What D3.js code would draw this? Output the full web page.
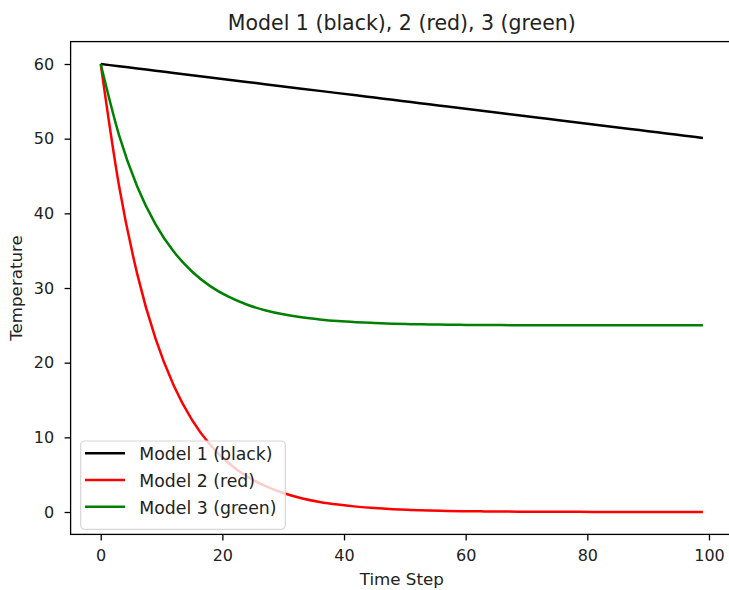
<!DOCTYPE html>
<html>
<head>
<meta charset="utf-8">
<script src="https://cdn.jsdelivr.net/npm/d3@7"></script>
<style>
  body { margin: 0; background: #fff; }
  svg text { font-family: "DejaVu Sans", "Noto Sans", sans-serif; fill: #222; }
</style>
</head>
<body>
<div id="chart"></div>
<script>
// time steps
var timeSteps = [0,3,6,9,12,15,18,21,24,27,30,33,36,39,42,45,48,51,54,57,60,63,66,69,72,75,78,81,84,87,90,93,96,99];
var model1 = [60,59.7,59.4,59.1,58.8,58.5,58.2,57.9,57.6,57.3,57,56.7,56.4,56.1,55.8,55.5,55.2,54.9,54.6,54.3,54,53.7,53.4,53.1,52.8,52.5,52.2,51.9,51.6,51.3,51,50.7,50.4,50.1];
var model2 = [60,43.74,31.89,23.24,16.95,12.35,9.01,6.57,4.79,3.49,2.54,1.85,1.35,0.99,0.72,0.52,0.38,0.28,0.2,0.15,0.11,0.08,0.06,0.04,0.03,0.02,0.02,0.01,0.01,0.01,0,0,0,0];
var model3 = [60,50.52,43.6,38.56,34.88,32.21,30.25,28.83,27.79,27.03,26.48,26.08,25.79,25.57,25.42,25.31,25.22,25.16,25.12,25.09,25.06,25.05,25.03,25.02,25.02,25.01,25.01,25.01,25,25,25,25,25,25];
var seriesNames = ["Model 1 (black)", "Model 2 (red)", "Model 3 (green)"];
var seriesColors = ["#000000", "#ff0000", "#008000"];
var xTicks = [0,20,40,60,80,100];
var yTicks = [0,10,20,30,40,50,60];

var drawChart = function(div) {
    var width = 729, height = 590;
    var svg = d3.select(div).append("svg")
        .attr("width", width)
        .attr("height", height);

    // axes box (right edge falls just outside the picture, as in the original)
    var box = {left: 70.6, right: 733, top: 41.6, bottom: 534.4};

    var xScale = d3.scaleLinear().domain([-4.95, 103.95]).range([box.left, box.right]);
    var yScale = d3.scaleLinear().domain([-3, 63]).range([box.bottom, box.top]);

    var allSeries = [model1, model2, model3];

    var line = d3.line()
        .x(function(d) { return xScale(d.t); })
        .y(function(d) { return yScale(d.v); })
        .curve(d3.curveMonotoneX);

    allSeries.forEach(function(vals, i) {
        var pts = timeSteps.map(function(t, j) { return {t: t, v: vals[j]}; });
        svg.append("path")
          .datum(pts)
          .attr("fill", "none")
          .attr("stroke", seriesColors[i])
          .attr("stroke-width", 2.5)
          .attr("stroke-linejoin", "round")
          .attr("d", line);
    });

    // spines
    svg.append("rect")
        .attr("x", box.left)
        .attr("y", box.top)
        .attr("width", box.right - box.left)
        .attr("height", box.bottom - box.top)
        .attr("fill", "none")
        .attr("stroke", "#000")
        .attr("stroke-width", 1.3);

    // x axis
    var xAxis = d3.axisBottom(xScale)
        .tickValues(xTicks)
        .tickSize(6)
        .tickPadding(9)
        .tickFormat(d3.format("d"));
    var gx = svg.append("g")
        .attr("transform", "translate(0," + box.bottom + ")")
        .call(xAxis);
    gx.select(".domain").remove();
    gx.selectAll(".tick line").attr("stroke", "#000").attr("stroke-width", 1.3);
    gx.selectAll(".tick text")
        .style("font-size", "16px")
        .attr("fill", "#222");

    // y axis
    var yAxis = d3.axisLeft(yScale)
        .tickValues(yTicks)
        .tickSize(6)
        .tickPadding(10.5)
        .tickFormat(d3.format("d"));
    var gy = svg.append("g")
        .attr("transform", "translate(" + box.left + ",0)")
        .call(yAxis);
    gy.select(".domain").remove();
    gy.selectAll(".tick line").attr("stroke", "#000").attr("stroke-width", 1.3);
    gy.selectAll(".tick text")
        .style("font-size", "16px")
        .attr("fill", "#222");

    // title and labels
    svg.append("text")
        .attr("x", (box.left + box.right) / 2)
        .attr("y", 29.5)
        .attr("text-anchor", "middle")
        .style("font-size", "20.5px")
        .text("Model 1 (black), 2 (red), 3 (green)");

    svg.append("text")
        .attr("x", (box.left + box.right) / 2)
        .attr("y", 585)
        .attr("text-anchor", "middle")
        .style("font-size", "16.7px")
        .text("Time Step");

    svg.append("text")
        .attr("transform", "translate(21.5," + ((box.top + box.bottom) / 2) + ") rotate(-90)")
        .attr("text-anchor", "middle")
        .style("font-size", "16.7px")
        .text("Temperature");

    // legend
    var legend = svg.append("g");
    legend.append("rect")
        .attr("x", 80.7)
        .attr("y", 441)
        .attr("width", 204.6)
        .attr("height", 88.3)
        .attr("rx", 4)
        .attr("fill", "#fff")
        .attr("fill-opacity", 0.8)
        .attr("stroke", "#d6d6d6")
        .attr("stroke-width", 1.2);

    seriesNames.forEach(function(name, i) {
        var yy = 453.3 + i * 26.7;
        legend.append("line")
          .attr("x1", 85).attr("x2", 125)
          .attr("y1", yy).attr("y2", yy)
          .attr("stroke", seriesColors[i])
          .attr("stroke-width", 2.5);
        legend.append("text")
          .attr("x", 139.3)
          .attr("y", yy + 7)
          .style("font-size", "17.3px")
          .text(name);
    });
};

drawChart("#chart");
</script>
</body>
</html>
